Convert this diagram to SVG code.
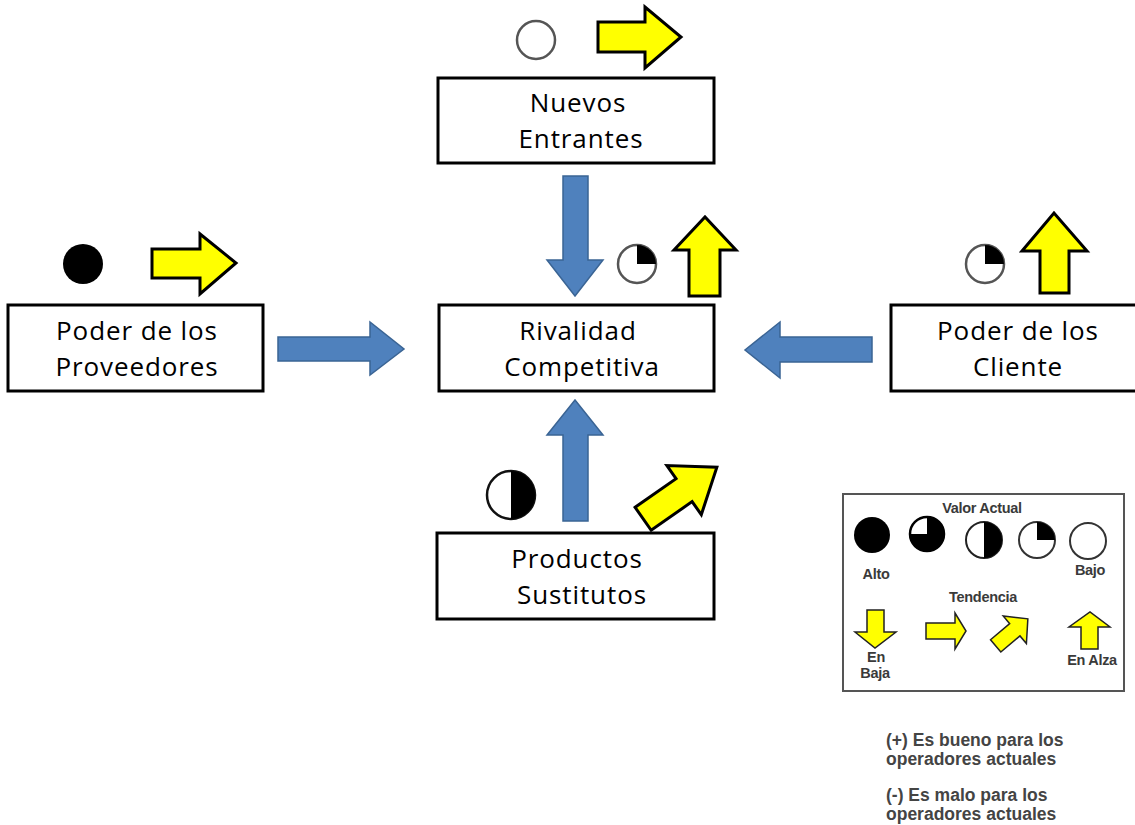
<svg xmlns="http://www.w3.org/2000/svg" width="1135" height="825" viewBox="0 0 1135 825">
<style>
.box{fill:#fff;stroke:#000;stroke-width:3}
.t{font-family:"Open Sans","Liberation Sans",sans-serif;font-size:26px;letter-spacing:0.9px;fill:#000;text-anchor:middle}
.blue{fill:#4f81bd;stroke:#3a6494;stroke-width:1.5}
.yel{fill:#ffff00;stroke:#000;stroke-width:3;stroke-linejoin:miter}
.yl{fill:#ffff00;stroke:#222;stroke-width:1.5}
.ring{fill:#fff;stroke:#555;stroke-width:2.5}
.ringb{fill:#fff;stroke:#111;stroke-width:2.5}
.blk{fill:#000}
.lg{font-family:"Liberation Sans",Arial,sans-serif;font-size:14.5px;font-weight:bold;letter-spacing:-0.3px;fill:#3a3a3a;text-anchor:middle}
.nt{font-family:"Liberation Sans",Arial,sans-serif;font-size:17.5px;font-weight:bold;fill:#444}
</style>
<rect width="1135" height="825" fill="#fff"/>
<g id="connectors">
  <polygon class="blue" points="563,176 588,176 588,260 603,260 575,296 547,260 563,260"/>
  <polygon class="blue" points="278,337 370,337 370,322 404,349 370,375 370,361 278,361"/>
  <polygon class="blue" points="872,337 780,337 780,322 745,350 780,378 780,362 872,362"/>
  <polygon class="blue" points="563,521 588,521 588,435 603,435 575,400 547,435 563,435"/>
</g>
<g id="nuevos-entrantes">
  <rect class="box" x="438" y="78" width="276" height="85"/>
  <text class="t" x="578" y="112">Nuevos</text>
  <text class="t" x="581" y="148">Entrantes</text>
  <circle class="ring" cx="536" cy="40" r="19"/>
  <polygon class="yel" points="598,22 645,22 645,7 681,37 645,68 645,52 598,52"/>
</g>
<g id="poder-proveedores">
  <rect class="box" x="8" y="305" width="255" height="86"/>
  <text class="t" x="137" y="340">Poder de los</text>
  <text class="t" x="137" y="376">Proveedores</text>
  <circle class="blk" cx="83" cy="264" r="20"/>
  <polygon class="yel" points="152,249 200,249 200,234 236,263 200,294 200,278 152,278"/>
</g>
<g id="rivalidad-competitiva">
  <rect class="box" x="439" y="305" width="275" height="86"/>
  <text class="t" x="578" y="340">Rivalidad</text>
  <text class="t" x="582" y="376">Competitiva</text>
  <circle class="ring" cx="637" cy="264" r="19"/>
  <path class="blk" d="M637,264 L637,245 A19,19 0 0 1 656,264 Z"/>
  <polygon class="yel" points="689,296 720,296 720,250 736,250 705,217 674,250 689,250"/>
</g>
<g id="poder-cliente">
  <rect class="box" x="891" y="305" width="246" height="86"/>
  <text class="t" x="1018" y="340">Poder de los</text>
  <text class="t" x="1018" y="376">Cliente</text>
  <circle class="ring" cx="985" cy="264" r="19"/>
  <path class="blk" d="M985,264 L985,245 A19,19 0 0 1 1004,264 Z"/>
  <polygon class="yel" points="1040,293 1069,293 1069,251 1087,251 1054,213 1022,251 1040,251"/>
</g>
<g id="productos-sustitutos">
  <rect class="box" x="437" y="533" width="277" height="86"/>
  <text class="t" x="577" y="568">Productos</text>
  <text class="t" x="582" y="604">Sustitutos</text>
  <circle class="ringb" cx="511" cy="495" r="24"/>
  <path class="blk" d="M511,471 A24,24 0 0 1 511,519 Z"/>
  <polygon class="yel" transform="translate(680,493) rotate(-35)" points="-45,-14 5,-14 5,-30 45,0 5,30 5,14 -45,14"/>
</g>
<g id="legend">
  <rect x="843" y="494" width="281" height="197" fill="#fff" stroke="#555" stroke-width="2"/>
  <text class="lg" x="982" y="513">Valor Actual</text>
  <circle class="blk" cx="872" cy="535" r="18"/>
  <circle cx="927" cy="534" r="17" fill="#fff" stroke="#000" stroke-width="2.5"/>
  <path class="blk" d="M927,534 L927,517 A17,17 0 1 1 910,534 Z"/>
  <circle cx="984" cy="540" r="18" fill="#fff" stroke="#222" stroke-width="2"/>
  <path class="blk" d="M984,522 A18,18 0 0 1 984,558 Z"/>
  <circle cx="1037" cy="540" r="18" fill="#fff" stroke="#333" stroke-width="2"/>
  <path class="blk" d="M1037,540 L1037,522 A18,18 0 0 1 1055,540 Z"/>
  <circle cx="1088" cy="541" r="18" fill="#fff" stroke="#333" stroke-width="2"/>
  <text class="lg" x="876" y="579">Alto</text>
  <text class="lg" x="1090" y="575">Bajo</text>
  <text class="lg" x="983" y="602">Tendencia</text>
  <polygon class="yl" points="867,610 884,610 884,632 896,632 875,648 855,632 867,632"/>
  <polygon class="yl" points="926,623 955,623 955,613 966,631 955,649 955,639 926,639"/>
  <polygon class="yl" transform="translate(1011,633) rotate(-40)" points="-20,-8 5,-8 5,-18 22,0 5,18 5,8 -20,8"/>
  <polygon class="yl" points="1081,649 1098,649 1098,627 1110,627 1090,612 1069,627 1081,627"/>
  <text class="lg" x="876" y="662">En</text>
  <text class="lg" x="875" y="678">Baja</text>
  <text class="lg" x="1092" y="665">En Alza</text>
</g>
<g id="notes">
  <text class="nt" x="886" y="746">(+) Es bueno para los</text>
  <text class="nt" x="886" y="765">operadores actuales</text>
  <text class="nt" x="886" y="801">(-) Es malo para los</text>
  <text class="nt" x="886" y="820">operadores actuales</text>
</g>
</svg>
